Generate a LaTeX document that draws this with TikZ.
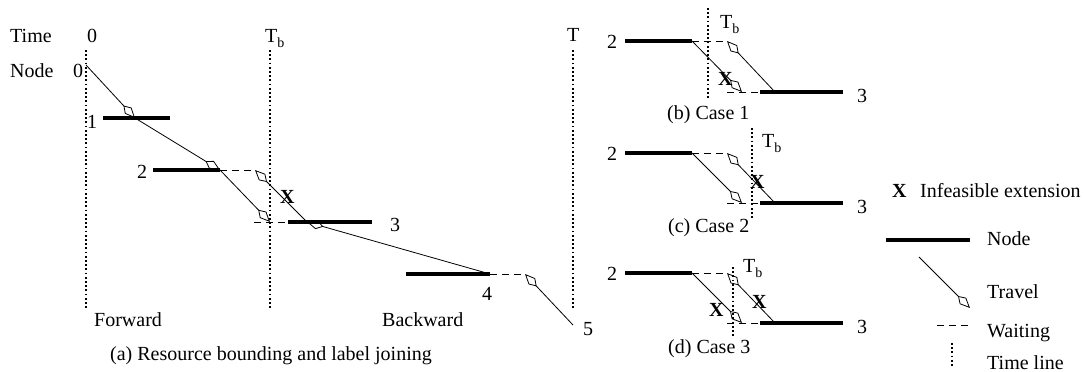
\documentclass[tikz,border=0pt]{standalone}
\usepackage{fontspec}
\setmainfont{Liberation Serif}
\usetikzlibrary{arrows.meta}
\newcommand{\Tb}{T\raisebox{-5pt}{\fontsize{14}{14}\selectfont b}}
\begin{document}
\begin{tikzpicture}[x=1pt,y=-1pt,
  lbl/.style={anchor=base west,inner sep=0pt,font=\fontsize{20}{24}\selectfont},
  xmark/.style={anchor=base west,inner sep=0pt,font=\fontsize{20}{24}\selectfont\bfseries},
  bar/.style={line width=3.5pt},
  travel/.style={line width=0.8pt,-{Kite[open,length=17pt,width=9pt,inset=7pt,line width=0.8pt]}},
  waiting/.style={line width=0.8pt,dash pattern=on 7pt off 5pt},
  timeline/.style={line width=1.8pt,dash pattern=on 1.8pt off 2.4pt}]
\useasboundingbox (0,0) rectangle (1084,372);

% ---------------- (a) main diagram ----------------
% time lines
\coordinate (t0a) at (86,50);  \coordinate (t0b) at (86,308);
\coordinate (tba) at (270,50); \coordinate (tbb) at (270,308);
\coordinate (tTa) at (573,50); \coordinate (tTb) at (573,308);
\draw[timeline] (t0a) -- (t0b);
\draw[timeline] (tba) -- (tbb);
\draw[timeline] (tTa) -- (tTb);

% node bars
\coordinate (b1l) at (103,118); \coordinate (b1r) at (170,118);
\coordinate (b2l) at (153,170); \coordinate (b2r) at (220,170);
\coordinate (b3l) at (288,222); \coordinate (b3r) at (372,222);
\coordinate (b4l) at (406,274); \coordinate (b4r) at (490,274);
\draw[bar] (b1l) -- (b1r);
\draw[bar] (b2l) -- (b2r);
\draw[bar] (b3l) -- (b3r);
\draw[bar] (b4l) -- (b4r);

% path points
\coordinate (p0) at (86,65);
\coordinate (p1) at (135,118);
\coordinate (w2) at (255,170);
\coordinate (a3) at (270,222);
\coordinate (w3) at (254,222);
\coordinate (p3) at (307,222);
\coordinate (w4) at (525,274);
\coordinate (p5) at (573,325);

\draw[travel] (p0) -- (p1);
\draw[travel] (p1) -- (b2r);
\draw[waiting] (b2r) -- (w2);
\draw[travel] (b2r) -- (a3);
\draw[waiting] (w3) -- (b3l);
\draw[travel] (p3) -- (w2);
\draw[travel] (b4r) -- (p3);
\draw[waiting] (b4r) -- (w4);
\draw[travel] (p5) -- (w4);

% labels
\node[lbl] (ltime) at (10,42) {Time};
\node[lbl] (lnode) at (10,77) {Node};
\node[lbl] (lt0) at (87,42) {0};
\node[lbl] (ltb) at (265,42) {\Tb};
\node[lbl] (ltT) at (567,41) {T};
\node[lbl] (ln0) at (73,77) {0};
\node[lbl] (ln1) at (87,128) {1};
\node[lbl] (ln2) at (137,178) {2};
\node[lbl] (ln3) at (390,231) {3};
\node[lbl] (ln4) at (482,300) {4};
\node[lbl] (ln5) at (583,335) {5};
\node[xmark] (xa) at (280,203) {X};
\node[lbl] (lfw) at (94,326) {Forward};
\node[lbl] (lbw) at (382,326) {Backward};
\node[lbl] (capa) at (110,360) {(a) Resource bounding and label joining};

% ---------------- (b) Case 1 ----------------
\coordinate (btla) at (708,8); \coordinate (btlb) at (708,100);
\draw[timeline] (btla) -- (btlb);
\coordinate (bb2l) at (625,41); \coordinate (bb2r) at (692,41);
\coordinate (bw2) at (727,41);
\coordinate (ba3) at (742,92); \coordinate (bw3) at (727,92);
\coordinate (bb3l) at (760,92); \coordinate (bb3r) at (843,92);
\coordinate (bp3) at (775,92);
\draw[bar] (bb2l) -- (bb2r);
\draw[bar] (bb3l) -- (bb3r);
\draw[waiting] (bb2r) -- (bw2);
\draw[waiting] (bw3) -- (bb3l);
\draw[travel] (bb2r) -- (ba3);
\draw[travel] (bp3) -- (bw2);
\node[lbl] (bl2) at (607,48) {2};
\node[lbl] (bl3) at (857,102) {3};
\node[lbl] (bltb) at (720,28) {\Tb};
\node[xmark] (bx) at (718,85) {X};
\node[lbl] (capb) at (667,119) {(b) Case 1};

% ---------------- (c) Case 2 ----------------
\coordinate (ctla) at (752,128); \coordinate (ctlb) at (752,218);
\draw[timeline] (ctla) -- (ctlb);
\coordinate (cb2l) at (625,153); \coordinate (cb2r) at (692,153);
\coordinate (cw2) at (727,153);
\coordinate (ca3) at (742,203); \coordinate (cw3) at (727,203);
\coordinate (cb3l) at (760,203); \coordinate (cb3r) at (843,203);
\coordinate (cp3) at (775,203);
\draw[bar] (cb2l) -- (cb2r);
\draw[bar] (cb3l) -- (cb3r);
\draw[waiting] (cb2r) -- (cw2);
\draw[waiting] (cw3) -- (cb3l);
\draw[travel] (cb2r) -- (ca3);
\draw[travel] (cp3) -- (cw2);
\node[lbl] (cl2) at (607,160) {2};
\node[lbl] (cl3) at (857,213) {3};
\node[lbl] (cltb) at (762,147) {\Tb};
\node[xmark] (cx) at (750,188) {X};
\node[lbl] (capc) at (668,232) {(c) Case 2};

% ---------------- (d) Case 3 ----------------
\coordinate (dtla) at (733,267); \coordinate (dtlb) at (733,338);
\draw[timeline] (dtla) -- (dtlb);
\coordinate (db2l) at (625,273); \coordinate (db2r) at (692,273);
\coordinate (dw2) at (727,273);
\coordinate (da3) at (742,323); \coordinate (dw3) at (727,323);
\coordinate (db3l) at (760,323); \coordinate (db3r) at (843,323);
\coordinate (dp3) at (775,323);
\draw[bar] (db2l) -- (db2r);
\draw[bar] (db3l) -- (db3r);
\draw[waiting] (db2r) -- (dw2);
\draw[waiting] (dw3) -- (db3l);
\draw[travel] (db2r) -- (da3);
\draw[travel] (dp3) -- (dw2);
\node[lbl] (dl2) at (607,280) {2};
\node[lbl] (dl3) at (857,333) {3};
\node[lbl] (dltb) at (743,272) {\Tb};
\node[xmark] (dx1) at (709,316) {X};
\node[xmark] (dx2) at (752,308) {X};
\node[lbl] (capd) at (668,353) {(d) Case 3};

% ---------------- legend ----------------
\node[xmark] (gx) at (892,197) {X};
\node[lbl] (gxt) at (920,197) {Infeasible extension};
\coordinate (gnl) at (886,240); \coordinate (gnr) at (970,240);
\draw[bar] (gnl) -- (gnr);
\node[lbl] (gnt) at (987,245) {Node};
\coordinate (gta) at (919,257); \coordinate (gtb) at (970,308);
\draw[travel] (gta) -- (gtb);
\node[lbl] (gtt) at (987,298) {Travel};
\coordinate (gwa) at (937,325); \coordinate (gwb) at (970,325);
\draw[waiting] (gwa) -- (gwb);
\node[lbl] (gwt) at (987,337) {Waiting};
\coordinate (gla) at (952,343); \coordinate (glb) at (952,367);
\draw[timeline] (gla) -- (glb);
\node[lbl] (glt) at (987,369) {Time line};
\end{tikzpicture}
\end{document}
